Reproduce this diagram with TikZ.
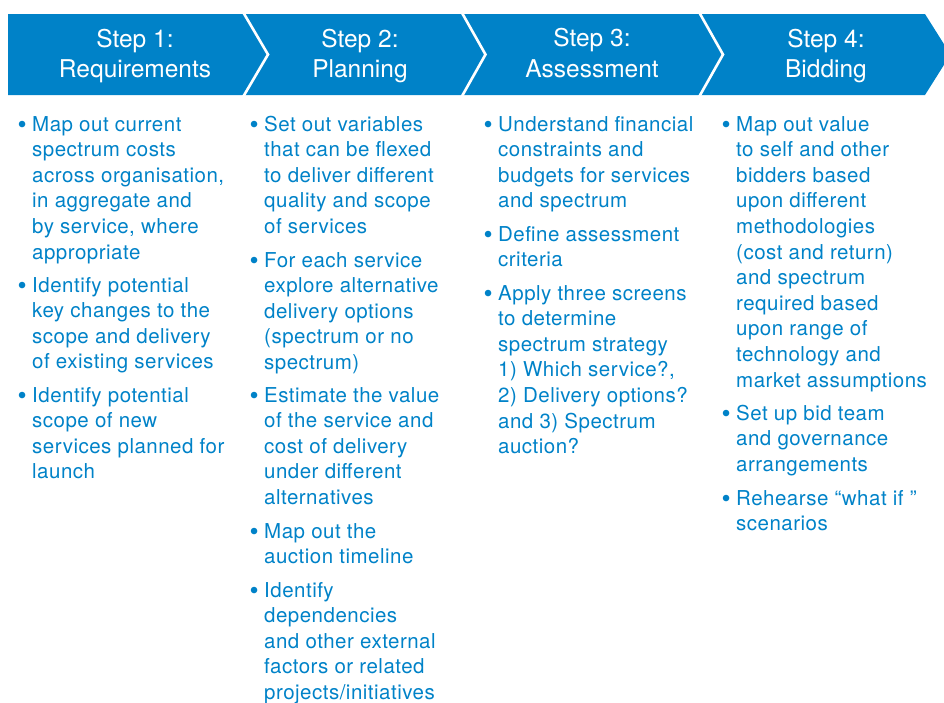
\documentclass[tikz,border=0pt]{standalone}
\usepackage{fontspec}
\setmainfont{TeX Gyre Heros}
\newfontfamily\bodyfam[LetterSpace=2.4]{TeX Gyre Heros}
\newfontfamily\headfam{TeX Gyre Heros}
\definecolor{stepblue}{RGB}{0,130,200}
\newcommand{\bitem}[1]{\parbox[t]{240pt}{\raggedright\leavevmode\llap{\raisebox{-2.4pt}{\fontsize{26}{26}\selectfont\textbullet}\hspace{5.6pt}}#1}}
\newcommand{\headtxt}[1]{\parbox[t]{200pt}{\centering #1}}
\tikzset{
  stepitem/.style={anchor=base west, inner sep=0pt, text=stepblue,
    font=\bodyfam\fontsize{20.5}{25.6}\selectfont},
  stephead/.style={anchor=base, inner sep=0pt, text=white,
    font=\headfam\fontsize{24.5}{30.5}\selectfont},
  sepline/.style={draw=white, line width=2.6pt}
}
\begin{document}
\begin{tikzpicture}[x=1pt,y=-1pt]
\useasboundingbox (0,0) rectangle (944,702);
% banner
\fill[stepblue] (8,14) -- (925,14) -- (950.5,54.5) -- (925,95) -- (8,95) -- cycle;
\draw[sepline] (243,12) -- (268,54.5) -- (243,97);
\draw[sepline] (461.5,12) -- (485.5,54.5) -- (461.5,97);
\draw[sepline] (699,12) -- (723,54.5) -- (699,97);
% headers
\node[stephead] (h1) at (135,47) {\headtxt{Step 1:\\Requirements}};
\node[stephead] (h2) at (360,47) {\headtxt{Step 2:\\Planning}};
\node[stephead] (h3) at (592,46.5) {\headtxt{Step 3:\\Assessment}};
\node[stephead] (h4) at (826,47) {\headtxt{Step 4:\\Bidding}};
% column 1
\node[stepitem] (c1a) at (32,131) {\bitem{Map out current\\spectrum costs\\across organisation,\\in aggregate and\\by service, where\\appropriate}};
\node[stepitem] (c1b) at (32,292) {\bitem{Identify potential\\key changes to the\\scope and delivery\\of existing services}};
\node[stepitem] (c1c) at (32,402) {\bitem{Identify potential\\scope of new\\services planned for\\launch}};
% column 2
\node[stepitem] (c2a) at (264,131) {\bitem{Set out variables\\that can be flexed\\to deliver different\\quality and scope\\of services}};
\node[stepitem] (c2b) at (264,267) {\bitem{For each service\\explore alternative\\delivery options\\(spectrum or no\\spectrum)}};
\node[stepitem] (c2c) at (264,402) {\bitem{Estimate the value\\of the service and\\cost of delivery\\under different\\alternatives}};
\node[stepitem] (c2d) at (264,538) {\bitem{Map out the\\auction timeline}};
\node[stepitem] (c2e) at (264,597) {\bitem{Identify\\dependencies\\and other external\\factors or related\\projects/initiatives}};
% column 3
\node[stepitem] (c3a) at (498,131) {\bitem{Understand financial\\constraints and\\budgets for services\\and spectrum}};
\node[stepitem] (c3b) at (498,241) {\bitem{Define assessment\\criteria}};
\node[stepitem] (c3c) at (498,300) {\bitem{Apply three screens\\to determine\\spectrum strategy\\1) Which service?,\\2) Delivery options?\\and 3) Spectrum\\auction?}};
% column 4
\node[stepitem] (c4a) at (736,131) {\bitem{Map out value\\to self and other\\bidders based\\upon different\\methodologies\\(cost and return)\\and spectrum\\required based\\upon range of\\technology and\\market assumptions}};
\node[stepitem] (c4b) at (736,420) {\bitem{Set up bid team\\and governance\\arrangements}};
\node[stepitem] (c4c) at (736,505) {\bitem{Rehearse “what if ”\\scenarios}};
\end{tikzpicture}
\end{document}
